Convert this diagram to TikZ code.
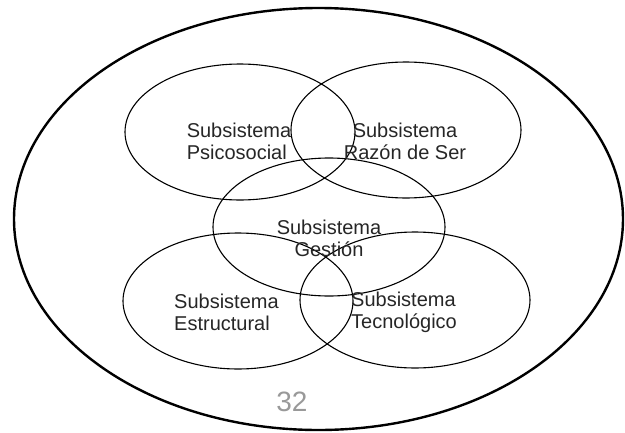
\documentclass[tikz,border=0pt]{standalone}
\usepackage{fontspec}
\setmainfont{Liberation Sans}
\usetikzlibrary{shapes.geometric}

\begin{document}
\begin{tikzpicture}[x=1pt,y=-1pt,
    outer/.style={draw,ellipse,line width=2.4pt,inner sep=0pt},
    subsis/.style={draw,ellipse,line width=1.1pt,inner sep=0pt,
      minimum width=230pt,minimum height=136pt},
    label/.style={inner sep=0pt,text=black!85,
      font=\fontsize{20}{21.7}\selectfont}]
        \useasboundingbox (0,0) rectangle (625,432);

        \node[outer,minimum width=609pt,minimum height=422pt] (todo) at (318.5,219) {};

        \node[subsis] (psico) at (240,132) {};
        \node[subsis] (razon) at (406,130) {};
        \node[subsis,minimum width=232pt,minimum height=138pt] (gest) at (329,227) {};
        \node[subsis] (estr) at (238,301) {};
        \node[subsis] (tecn) at (415,300) {};

        \node[label,align=left] (tpsico) at (239,141) {Subsistema\\Psicosocial};
        \node[label,align=center] (trazon) at (405,141) {Subsistema\\Raz\'on de Ser};
        \node[label,align=center] (tgest) at (329,238) {Subsistema\\Gesti\'on};
        \node[label,align=left,anchor=west] (testr) at (174,312) {Subsistema\\Estructural};
        \node[label,align=left,anchor=west] (ttecn) at (351,312) {Subsistema\\Tecnol\'ogico};

        \node[inner sep=0pt,text=black!40,font=\fontsize{28}{30}\selectfont] (pag) at (292,402) {32};
      \end{tikzpicture}
\end{document}
